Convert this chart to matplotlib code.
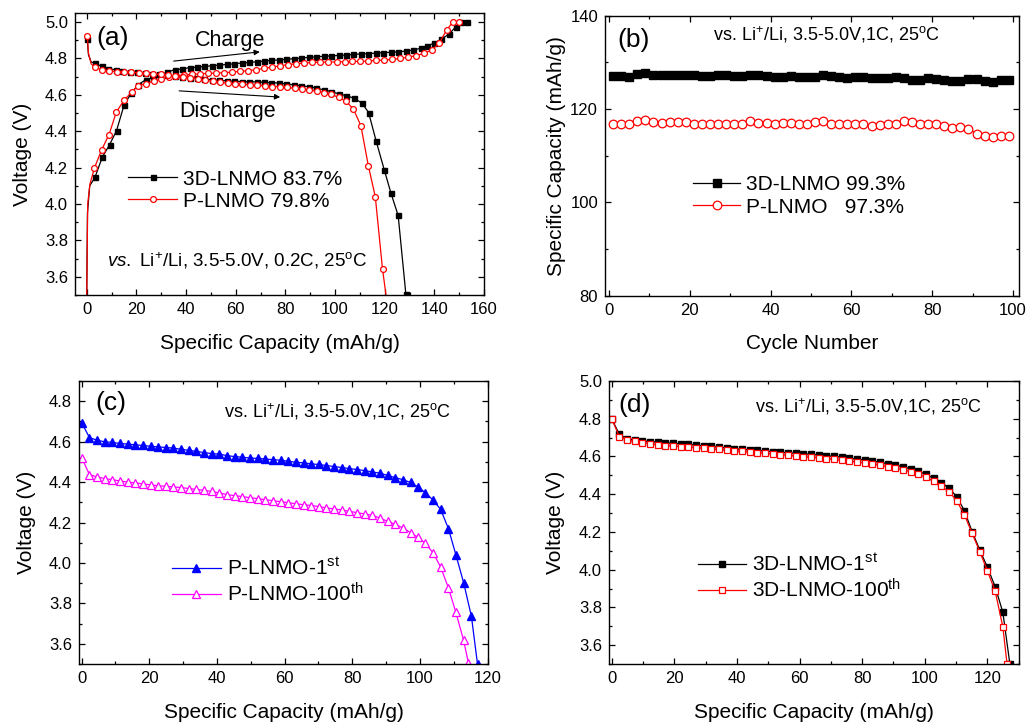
import matplotlib.pyplot as plt
from matplotlib.ticker import MultipleLocator

plt.rcParams['font.family'] = 'Liberation Sans'
plt.rcParams['mathtext.fontset'] = 'custom'
plt.rcParams['mathtext.rm'] = 'Liberation Sans'
plt.rcParams['mathtext.it'] = 'Liberation Sans:italic'
plt.rcParams['mathtext.bf'] = 'Liberation Sans:bold'

# ---- (a) first charge / discharge at 0.2C ----
a_cap_3d_chg = [0, 0.3, 1.2, 3.3, 6.3, 9.2, 12.0, 15.0, 18.0, 20.7, 23.7, 26.6, 29.5, 32.4, 35.4, 38.4,
                41.4, 44.4, 47.4, 50.4, 53.4, 56.4, 59.4, 62.4, 65.4, 68.4, 71.4, 74.4, 77.4, 80.4, 83.4,
                86.4, 89.4, 92.4, 95.4, 98.4, 101.4, 104.4, 107.4, 110.4, 113.4, 116.4, 119.4, 122.4,
                125.4, 128.4, 131.4, 134.4, 137.2, 140.0, 142.8, 145.9, 148.6, 150.8, 153.3]
a_v_3d_chg = [3.50, 3.95, 4.10, 4.146, 4.258, 4.326, 4.403, 4.542, 4.612, 4.655, 4.683, 4.693, 4.709,
              4.725, 4.738, 4.743, 4.749, 4.752, 4.756, 4.760, 4.764, 4.767, 4.771, 4.775, 4.778, 4.782,
              4.786, 4.789, 4.792, 4.795, 4.799, 4.802, 4.806, 4.809, 4.812, 4.814, 4.817, 4.819, 4.822,
              4.825, 4.827, 4.829, 4.832, 4.834, 4.837, 4.840, 4.846, 4.856, 4.871, 4.884, 4.907, 4.934,
              4.974, 5.0, 5.0]
a_cap_3d_dis = [0.2, 0.7, 1.8, 3.3, 6.0, 8.7, 11.6, 14.4, 17.4, 20.3, 23.3, 26.2, 29.3, 32.3, 35.4, 38.4,
                41.4, 44.4, 47.4, 50.4, 53.4, 56.4, 59.4, 62.4, 65.4, 68.4, 71.4, 74.4, 77.4, 80.4, 83.4,
                86.4, 89.4, 92.4, 95.4, 98.4, 101.4, 104.4, 107.6, 110.8, 113.5, 116.5, 119.8, 122.5,
                125.4, 128.5]
a_v_3d_dis = [4.908, 4.82, 4.78, 4.775, 4.756, 4.743, 4.738, 4.732, 4.727, 4.724, 4.720, 4.716, 4.712,
              4.708, 4.705, 4.700, 4.695, 4.692, 4.688, 4.683, 4.680, 4.677, 4.675, 4.673, 4.672, 4.671,
              4.669, 4.667, 4.665, 4.660, 4.655, 4.650, 4.645, 4.638, 4.627, 4.618, 4.606, 4.596, 4.582,
              4.555, 4.503, 4.348, 4.188, 4.060, 3.937, 3.505]
a_cap_p_chg = [0, 0.4, 1.3, 3.1, 6.0, 9.0, 11.9, 15.0, 18.1, 20.7, 23.8, 27.0, 30.1, 33.2, 36.0, 39.1,
               42.5, 45.8, 48.9, 52.1, 55.4, 58.4, 61.8, 64.9, 68.1, 71.2, 74.5, 77.9, 81.0, 84.3, 87.6,
               90.6, 93.9, 97.2, 100.6, 103.9, 107.0, 110.2, 113.3, 116.5, 119.6, 123.0, 126.3, 129.5,
               132.6, 136.0, 139.0, 141.9, 145.0, 147.3, 149.8]
a_v_p_chg = [3.50, 4.00, 4.11, 4.198, 4.298, 4.382, 4.505, 4.570, 4.615, 4.650, 4.661, 4.677, 4.688,
             4.698, 4.705, 4.709, 4.713, 4.716, 4.718, 4.720, 4.722, 4.725, 4.729, 4.733, 4.738, 4.745,
             4.752, 4.760, 4.766, 4.771, 4.775, 4.778, 4.779, 4.780, 4.781, 4.782, 4.784, 4.784, 4.786,
             4.789, 4.791, 4.795, 4.800, 4.807, 4.816, 4.829, 4.847, 4.884, 4.958, 4.998, 5.0]
a_cap_p_dis = [0.25, 0.7, 1.8, 3.3, 6.0, 8.9, 12.0, 15.0, 18.0, 20.9, 23.8, 26.7, 29.8, 32.7, 35.7, 38.7,
               41.7, 44.7, 47.7, 50.7, 53.7, 56.7, 59.7, 62.7, 65.7, 68.7, 71.7, 74.7, 77.7, 80.7, 83.7,
               86.7, 89.7, 92.7, 95.7, 98.3, 101.4, 104.4, 107.4, 110.4, 113.4, 116.2, 119.1, 120.5]
a_v_p_dis = [4.926, 4.83, 4.77, 4.753, 4.738, 4.732, 4.728, 4.726, 4.724, 4.722, 4.718, 4.716, 4.712,
             4.707, 4.703, 4.700, 4.695, 4.688, 4.680, 4.674, 4.669, 4.664, 4.660, 4.658, 4.656, 4.652,
             4.649, 4.646, 4.644, 4.641, 4.636, 4.632, 4.627, 4.620, 4.613, 4.604, 4.586, 4.564, 4.522,
             4.430, 4.210, 4.040, 3.643, 3.50]

# ---- (b) cycling at 1C ----
b_cycle = list(range(1, 100, 2))
b_3d = [127.1, 127.1, 126.9, 127.5, 127.7, 127.2, 127.2, 127.2, 127.4, 127.2, 127.2, 127.1, 127.1,
        127.2, 127.2, 127.1, 127.1, 127.4, 127.2, 127.1, 126.9, 126.9, 127.0, 126.9, 126.9, 126.8,
        127.2, 127.0, 126.9, 126.6, 126.9, 126.9, 126.7, 126.6, 126.7, 126.9, 126.7, 126.3, 126.3,
        126.6, 126.4, 126.3, 126.1, 126.1, 126.4, 126.4, 126.1, 125.9, 126.2, 126.2]
b_p = [116.9, 116.9, 116.8, 117.4, 117.6, 117.2, 117.1, 117.2, 117.3, 117.2, 116.9, 116.9, 116.9,
       116.9, 116.9, 116.9, 116.9, 117.4, 117.1, 117.0, 116.9, 117.1, 117.1, 116.9, 116.9, 117.2,
       117.4, 116.9, 116.7, 116.7, 116.8, 116.8, 116.4, 116.5, 116.9, 116.9, 117.4, 117.2, 116.8,
       116.8, 116.8, 116.4, 115.9, 116.2, 115.8, 114.7, 114.2, 114.1, 114.2, 114.3]

# ---- (c) P-LNMO discharge, 1st vs 100th ----
c_cap_1 = [0, 2.3, 4.6, 6.9, 9.1, 11.3, 13.6, 15.9, 18.1, 20.4, 22.6, 24.9, 27.1, 29.4, 31.7, 33.9,
           36.2, 38.4, 40.7, 43.0, 45.2, 47.5, 49.7, 52.0, 54.3, 56.5, 58.8, 61.0, 63.3, 65.6, 67.8,
           70.1, 72.3, 74.6, 76.9, 79.1, 81.4, 83.6, 85.9, 88.2, 90.4, 92.7, 94.9, 97.2, 99.4, 101.6,
           103.9, 106.1, 108.4, 110.6, 112.9, 115.2, 117.0]
c_v_1 = [4.694, 4.620, 4.607, 4.599, 4.596, 4.591, 4.588, 4.584, 4.581, 4.577, 4.574, 4.571, 4.568,
         4.562, 4.557, 4.552, 4.546, 4.541, 4.538, 4.531, 4.526, 4.523, 4.519, 4.517, 4.514, 4.511,
         4.508, 4.503, 4.498, 4.495, 4.490, 4.487, 4.482, 4.477, 4.472, 4.467, 4.462, 4.457, 4.450,
         4.444, 4.433, 4.422, 4.412, 4.398, 4.376, 4.348, 4.310, 4.265, 4.170, 4.041, 3.902, 3.736, 3.500]
c_cap_100 = [0, 2.3, 4.6, 6.9, 9.1, 11.3, 13.6, 15.9, 18.1, 20.4, 22.6, 24.9, 27.1, 29.4, 31.7, 33.9,
             36.2, 38.4, 40.7, 43.0, 45.2, 47.5, 49.7, 52.0, 54.3, 56.5, 58.8, 61.0, 63.3, 65.6, 67.8,
             70.1, 72.3, 74.6, 76.9, 79.1, 81.4, 83.6, 85.9, 88.2, 90.4, 92.7, 94.9, 97.2, 99.4, 101.6,
             103.9, 106.1, 108.4, 110.6, 112.9, 114.3]
c_v_100 = [4.521, 4.437, 4.425, 4.417, 4.412, 4.405, 4.400, 4.396, 4.391, 4.386, 4.382, 4.379, 4.376,
           4.373, 4.368, 4.364, 4.359, 4.354, 4.346, 4.338, 4.333, 4.328, 4.323, 4.318, 4.313, 4.308,
           4.303, 4.298, 4.293, 4.288, 4.284, 4.279, 4.272, 4.267, 4.262, 4.255, 4.249, 4.242, 4.236,
           4.222, 4.206, 4.191, 4.173, 4.150, 4.127, 4.097, 4.049, 3.980, 3.877, 3.756, 3.617, 3.506]

# ---- (d) 3D-LNMO discharge, 1st vs 100th ----
d_cap_1 = [0, 2.45, 4.9, 7.35, 9.8, 12.25, 14.7, 17.15, 19.6, 22.05, 24.5, 26.95, 29.4, 31.85, 34.3,
           36.75, 39.2, 41.65, 44.1, 46.55, 49.0, 51.45, 53.9, 56.35, 58.8, 61.25, 63.7, 66.15, 68.6,
           71.05, 73.5, 75.95, 78.4, 80.85, 83.3, 85.75, 88.2, 90.65, 93.1, 95.55, 98.0, 100.45, 102.9,
           105.35, 107.8, 110.25, 112.7, 115.15, 117.6, 120.05, 122.5, 124.95, 127.2]
d_v_1 = [4.800, 4.717, 4.693, 4.688, 4.683, 4.679, 4.676, 4.673, 4.670, 4.667, 4.664, 4.660, 4.657,
         4.653, 4.649, 4.645, 4.641, 4.638, 4.635, 4.632, 4.629, 4.626, 4.623, 4.620, 4.617, 4.614,
         4.611, 4.608, 4.604, 4.600, 4.596, 4.591, 4.586, 4.581, 4.576, 4.569, 4.562, 4.554, 4.545,
         4.534, 4.521, 4.505, 4.484, 4.460, 4.432, 4.387, 4.312, 4.201, 4.104, 4.012, 3.910, 3.774, 3.500]
d_cap_100 = [0, 2.45, 4.9, 7.35, 9.8, 12.25, 14.7, 17.15, 19.6, 22.05, 24.5, 26.95, 29.4, 31.85, 34.3,
             36.75, 39.2, 41.65, 44.1, 46.55, 49.0, 51.45, 53.9, 56.35, 58.8, 61.25, 63.7, 66.15, 68.6,
             71.05, 73.5, 75.95, 78.4, 80.85, 83.3, 85.75, 88.2, 90.65, 93.1, 95.55, 98.0, 100.45, 102.9,
             105.35, 107.8, 110.25, 112.7, 115.15, 117.6, 120.05, 122.5, 124.95, 126.3]
d_v_100 = [4.800, 4.705, 4.687, 4.680, 4.674, 4.667, 4.662, 4.658, 4.655, 4.652, 4.649, 4.646, 4.643,
           4.640, 4.637, 4.634, 4.631, 4.627, 4.623, 4.620, 4.617, 4.613, 4.610, 4.606, 4.602, 4.598,
           4.595, 4.592, 4.588, 4.584, 4.580, 4.575, 4.570, 4.565, 4.560, 4.553, 4.546, 4.538, 4.529,
           4.518, 4.505, 4.489, 4.470, 4.443, 4.412, 4.365, 4.290, 4.192, 4.095, 3.992, 3.886, 3.697, 3.500]

cond_a = r'$vs.$ Li$^{+}$/Li, 3.5-5.0V, 0.2C, 25$^{\rm o}$C'
cond_1c = r'vs. Li$^{+}$/Li, 3.5-5.0V,1C, 25$^{\rm o}$C'


def style(ax, xmaj, ymaj):
    ax.xaxis.set_major_locator(MultipleLocator(xmaj))
    ax.xaxis.set_minor_locator(MultipleLocator(xmaj / 2))
    ax.yaxis.set_major_locator(MultipleLocator(ymaj))
    ax.yaxis.set_minor_locator(MultipleLocator(ymaj / 2))
    ax.tick_params(which='both', direction='in', top=True, right=True, labelsize=12, width=0.9, pad=5)
    ax.tick_params(which='major', length=4.5)
    ax.tick_params(which='minor', length=2.5)
    for s in ax.spines.values():
        s.set_linewidth(1.0)


fig = plt.figure(figsize=(10.28, 7.22), dpi=100)
ax1 = fig.add_axes([0.0730, 0.5914, 0.3979, 0.3906])
ax2 = fig.add_axes([0.5885, 0.5904, 0.4027, 0.3878])
ax3 = fig.add_axes([0.0768, 0.0803, 0.3979, 0.3920])
ax4 = fig.add_axes([0.5924, 0.0803, 0.3988, 0.3920])

leg_kw = dict(loc='center left', frameon=False, fontsize=15, handletextpad=0.3, borderpad=0,
              borderaxespad=0, numpoints=1)

# (a)
sq = dict(color='black', marker='s', ms=3.6, lw=0.9)
ci = dict(color='red', marker='o', ms=4.2, mfc='white', mew=0.9, lw=0.9)
l1, = ax1.plot(a_cap_3d_chg, a_v_3d_chg, markevery=list(range(3, len(a_cap_3d_chg))), **sq)
ax1.plot(a_cap_3d_dis, a_v_3d_dis, markevery=[0] + list(range(3, len(a_cap_3d_dis))), **sq)
l2, = ax1.plot(a_cap_p_chg, a_v_p_chg, markevery=list(range(3, len(a_cap_p_chg))), **ci)
ax1.plot(a_cap_p_dis, a_v_p_dis, markevery=[0] + list(range(3, len(a_cap_p_dis) - 1)), **ci)
ax1.set_xlim(-4.7, 160)
ax1.set_ylim(3.5, 5.05)
style(ax1, 20, 0.2)
ax1.set_xlabel('Specific Capacity (mAh/g)', fontsize=15, labelpad=12)
ax1.set_ylabel('Voltage (V)', fontsize=15, labelpad=9)
ax1.text(0.093, 0.911, '(a)', transform=ax1.transAxes, ha='center', va='center', fontsize=19)
ax1.text(0.379, 0.904, 'Charge', transform=ax1.transAxes, ha='center', va='center', fontsize=15.5)
ax1.text(0.372, 0.649, 'Discharge', transform=ax1.transAxes, ha='center', va='center', fontsize=15.5)
ax1.annotate('', xy=(70.8, 4.838), xytext=(33.9, 4.784),
             arrowprops=dict(arrowstyle='-|>', color='black', lw=0.8, mutation_scale=8))
ax1.annotate('', xy=(79.0, 4.587), xytext=(36.1, 4.623),
             arrowprops=dict(arrowstyle='-|>', color='black', lw=0.8, mutation_scale=8))
ax1.text(0.396, 0.121, cond_a, transform=ax1.transAxes, ha='center', va='center', fontsize=13.5)
ax1.legend([l1, l2], ['3D-LNMO 83.7%', 'P-LNMO 79.8%'], bbox_to_anchor=(0.13, 0.372),
           handlelength=2.35, labelspacing=0.15, **leg_kw)

# (b)
m1, = ax2.plot(b_cycle, b_3d, color='black', marker='s', ms=5.8, lw=0.9)
m2, = ax2.plot(b_cycle, b_p, color='red', marker='o', ms=6.2, mfc='white', mew=0.9, lw=0.9)
ax2.set_xlim(-1, 101.5)
ax2.set_ylim(80, 140)
style(ax2, 20, 20)
ax2.set_xlabel('Cycle Number', fontsize=15, labelpad=12)
ax2.set_ylabel('Specific Capacity (mAh/g)', fontsize=15, labelpad=3)
ax2.text(0.068, 0.913, '(b)', transform=ax2.transAxes, ha='center', va='center', fontsize=19)
ax2.text(0.534, 0.931, cond_1c, transform=ax2.transAxes, ha='center', va='center', fontsize=13)
ax2.legend([m1, m2], ['3D-LNMO 99.3%', 'P-LNMO   97.3%'], bbox_to_anchor=(0.2126, 0.356),
           handlelength=2.26, labelspacing=0.15, **leg_kw)

# (c)
n1, = ax3.plot(c_cap_1, c_v_1, color='blue', marker='^', ms=5.5, lw=0.9)
n2, = ax3.plot(c_cap_100, c_v_100, color='magenta', marker='^', ms=5.5, mfc='white', mew=0.9, lw=0.9)
ax3.set_xlim(-0.8, 120.1)
ax3.set_ylim(3.5, 4.9)
style(ax3, 20, 0.2)
ax3.set_xlabel('Specific Capacity (mAh/g)', fontsize=15, labelpad=12)
ax3.set_ylabel('Voltage (V)', fontsize=15, labelpad=9)
ax3.text(0.078, 0.922, '(c)', transform=ax3.transAxes, ha='center', va='center', fontsize=19)
ax3.text(0.633, 0.890, cond_1c, transform=ax3.transAxes, ha='center', va='center', fontsize=13)
ax3.legend([n1, n2], [r'P-LNMO-1$^{\rm st}$', r'P-LNMO-100$^{\rm th}$'], bbox_to_anchor=(0.228, 0.2926),
           handlelength=2.33, labelspacing=0.15, **leg_kw)

# (d)
k1, = ax4.plot(d_cap_1, d_v_1, color='black', marker='s', ms=3.8, lw=0.9)
k2, = ax4.plot(d_cap_100, d_v_100, color='red', marker='s', ms=3.8, mfc='white', mew=0.9, lw=0.9)
ax4.set_xlim(-0.86, 130.1)
ax4.set_ylim(3.5, 5.0)
style(ax4, 20, 0.2)
ax4.set_xlabel('Specific Capacity (mAh/g)', fontsize=15, labelpad=12)
ax4.set_ylabel('Voltage (V)', fontsize=15, labelpad=10)
ax4.text(0.063, 0.915, '(d)', transform=ax4.transAxes, ha='center', va='center', fontsize=19)
ax4.text(0.634, 0.908, cond_1c, transform=ax4.transAxes, ha='center', va='center', fontsize=13)
ax4.legend([k1, k2], [r'3D-LNMO-1$^{\rm st}$', r'3D-LNMO-100$^{\rm th}$'], bbox_to_anchor=(0.2163, 0.3057),
           handlelength=2.33, labelspacing=0.15, **leg_kw)

fig.savefig('out.png', dpi=100)
